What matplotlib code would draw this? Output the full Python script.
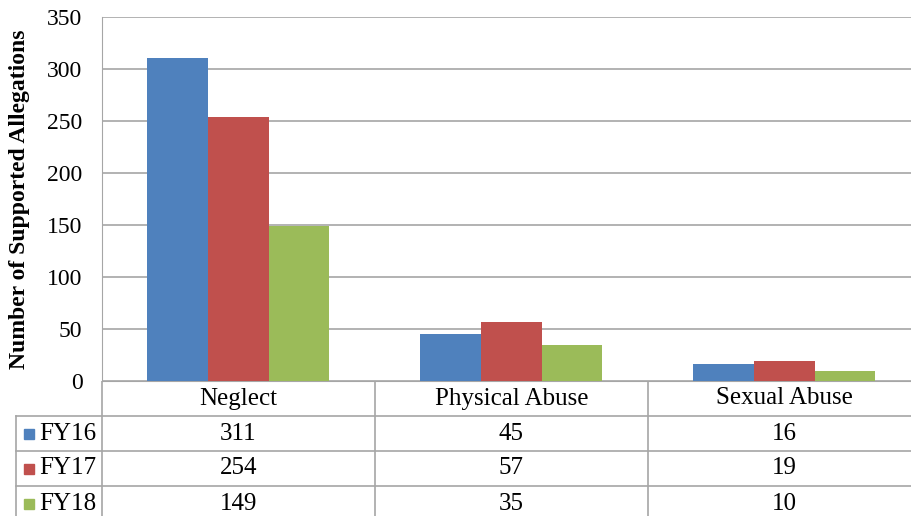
import matplotlib
matplotlib.use("Agg")
from matplotlib import pyplot as plt
from matplotlib.lines import Line2D
from matplotlib.patches import Rectangle
import numpy as np

plt.rcParams['font.family'] = ['Liberation Serif', 'DejaVu Serif']

categories = ["Neglect", "Physical Abuse", "Sexual Abuse"]
series = ["FY16", "FY17", "FY18"]
fy16 = [311, 45, 16]
fy17 = [254, 57, 19]
fy18 = [149, 35, 10]
colors = ["#4f81bd", "#c0504d", "#9bbb59"]
yticks = [0, 50, 100, 150, 200, 250, 300, 350]

W, H = 912, 516
fig = plt.figure(figsize=(W / 100, H / 100), dpi=100)

# plot area in pixel coords (right edge runs a bit past the image)
left, right, top, bottom = 102, 921, 17, 381
ax = fig.add_axes([left / W, (H - bottom) / H, (right - left) / W, (bottom - top) / H])

values = [fy16, fy17, fy18]
x = np.arange(len(categories))
bw = 1 / 4.5
for i, (vals, c) in enumerate(zip(values, colors)):
    ax.bar(x + (i - 1) * bw, vals, width=bw, color=c, zorder=3)

ax.set_xlim(-0.5, len(categories) - 0.5)
ax.set_ylim(0, 350)
ax.set_yticks(yticks)
ax.set_yticklabels([str(t) for t in yticks], fontsize=17)
ax.set_xticks([])
ax.yaxis.grid(True, color="#a6a6a6", linewidth=1.2, zorder=0)
ax.tick_params(axis="y", length=0, pad=14)
for s in ["top", "right"]:
    ax.spines[s].set_visible(False)
ax.spines["left"].set_color("#a6a6a6")
ax.spines["bottom"].set_color("#a6a6a6")
ax.set_ylabel("Number of Supported Allegations", fontsize=17, fontweight="bold")
ax.yaxis.set_label_coords(-0.088, 0.5)

# data table below the plot, drawn in pixel coords
tab = fig.add_axes([0, 0, 1, (H - bottom) / H])
tab.set_xlim(0, W)
tab.set_ylim(H, bottom)
tab.axis("off")
lc = "#a6a6a6"
col_edges = [left + k * (right - left) / len(categories) for k in range(len(categories) + 1)]
row_edges = [381, 416, 451, 486, 521]

for xe in col_edges[:-1]:
    tab.add_line(Line2D([xe, xe], [bottom, H], color=lc, lw=1.2))
tab.add_line(Line2D([16, 16], [row_edges[1], H], color=lc, lw=1.2))
for ye in row_edges[1:4]:
    tab.add_line(Line2D([16, W], [ye, ye], color=lc, lw=1.2))

for k, cat in enumerate(categories):
    cx = (col_edges[k] + col_edges[k + 1]) / 2
    tab.text(cx, (row_edges[0] + row_edges[1]) / 2, cat, ha="center", va="center", fontsize=18)
    for r, vals in enumerate(values):
        tab.text(cx, (row_edges[r + 1] + row_edges[r + 2]) / 2, str(vals[k]),
                 ha="center", va="center", fontsize=18)

for r, (name, c) in enumerate(zip(series, colors)):
    yc = (row_edges[r + 1] + row_edges[r + 2]) / 2
    tab.add_patch(Rectangle((24, yc - 5), 10, 10, color=c))
    tab.text(39, yc, name, ha="left", va="center", fontsize=18)

fig.savefig("out.png", dpi=100)
